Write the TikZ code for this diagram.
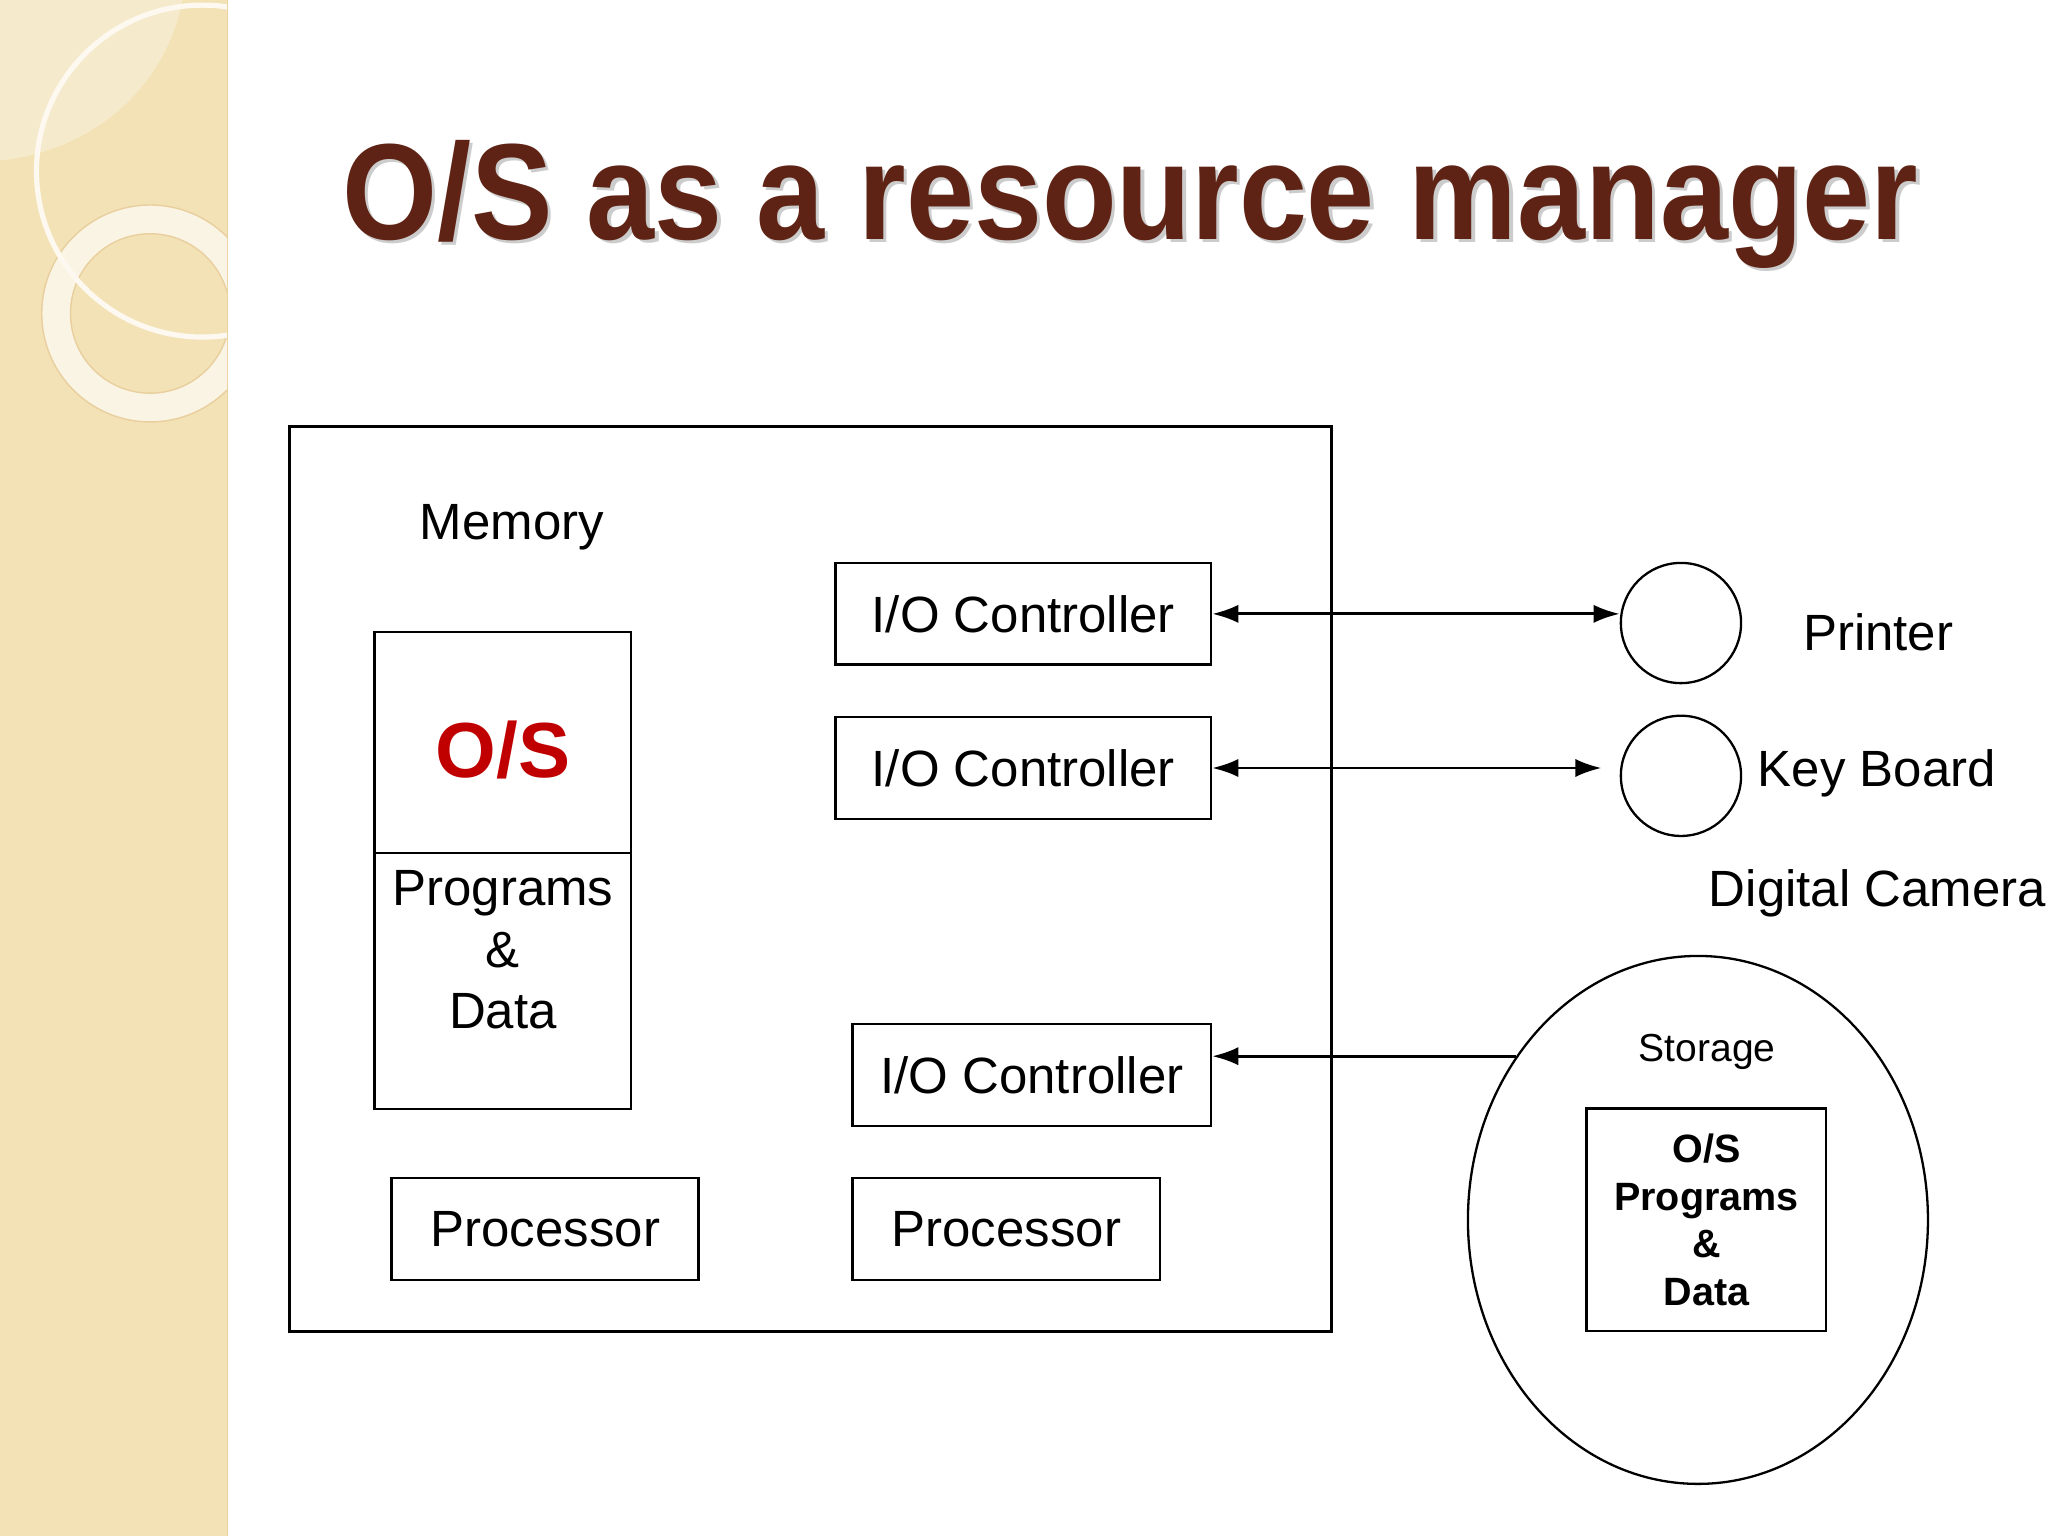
\documentclass[tikz,border=0pt]{standalone}
\usepackage{fontspec}
\usepackage{graphicx}
\setmainfont{Liberation Sans}
\usetikzlibrary{shapes.geometric, positioning, arrows.meta}

\definecolor{titlebrown}{HTML}{5E2314}
\definecolor{osred}{HTML}{C00000}
\definecolor{sidebeige}{HTML}{F3E2B6}

\tikzset{
	box/.style={draw, line width=0.6pt, inner sep=0pt},
	lbl/.style={font=\fontsize{11.1}{13.4}\selectfont},
	small/.style={font=\fontsize{8.5}{10.4}\selectfont},
	smallbold/.style={font=\fontsize{8.6}{10.4}\selectfont\bfseries, align=center},
	link/.style={line width=0.6pt},
	tip/.tip={Latex[length=0.2cm, width=0.14cm]},
}

\begin{document}
\begin{tikzpicture}[x=0.01cm, y=-0.01cm]
	\useasboundingbox (0,0) rectangle (1568,1176);

	% side strip of the slide
	\fill[sidebeige] (0,0) rectangle (174,1176);
	\begin{scope}
		\clip (0,0) rectangle (174,1176);
		\fill[white, opacity=0.3] (0,0) -- (140,0) .. controls (125,70) and (70,115) .. (0,123) -- cycle;
		\draw[line width=0.22cm, white!70!sidebeige, opacity=0.9] (115,240) circle (0.72cm);
		\draw[line width=0.3pt, sidebeige!80!brown] (115,240) circle (0.83cm);
		\draw[line width=0.3pt, sidebeige!80!brown] (115,240) circle (0.61cm);
		\draw[line width=0.04cm, white!80!sidebeige] (155,131) circle (1.27cm);
	\end{scope}
	\draw[line width=0.3pt, sidebeige!85!brown] (174,0) -- (174,1176);

	% title
	\node[anchor=base, font=\fontsize{29.8}{36}\selectfont\bfseries, text=black, opacity=0.2] at (868,186) {\scalebox{0.893}[1]{O/S as a resource manager}};
	\node[anchor=base, font=\fontsize{29.8}{36}\selectfont\bfseries, text=titlebrown] (title) at (865.5,183) {\scalebox{0.893}[1]{O/S as a resource manager}};

	% memory
	\node[box, minimum width=7.97cm, minimum height=6.92cm] (mem) at (620.5,673) {};
	\node[lbl, anchor=base] (memlbl) at (392,413) {Memory};

	\node[box, minimum width=1.96cm, minimum height=1.69cm] (os) at (385,568.5) {};
	\node[font=\fontsize{17}{20}\selectfont\bfseries, text=osred] (oslbl) at (385,574) {O/S};
	\node[box, minimum width=1.96cm, minimum height=1.96cm, below=-0.6pt of os] (pd) {};
	\node[lbl, align=center, anchor=north, inner sep=0pt] (pdlbl) at (385,666) {Programs\\\&\\Data};

	\node[box, lbl, minimum width=2.87cm, minimum height=0.78cm] (io1) at (783.5,470) {I/O Controller};
	\node[box, lbl, minimum width=2.87cm, minimum height=0.78cm] (io2) at (783.5,588) {I/O Controller};
	\node[box, lbl, minimum width=2.74cm, minimum height=0.78cm] (io3) at (790,823) {I/O Controller};

	\node[box, lbl, minimum width=2.35cm, minimum height=0.78cm] (cpu1) at (417.5,941) {Processor};
	\node[box, lbl, minimum width=2.35cm, minimum height=0.78cm] (cpu2) at (770.5,941) {Processor};

	% devices
	\node[draw, circle, line width=0.5pt, minimum size=0.92cm, inner sep=0pt] (printer) at (1287,477) {};
	\node[draw, circle, line width=0.5pt, minimum size=0.92cm, inner sep=0pt] (kbd) at (1287,594) {};
	\node[lbl, anchor=base] (printerlbl) at (1438,498) {Printer};
	\node[lbl, anchor=base] (kbdlbl) at (1437,602) {Key Board};
	\node[lbl, anchor=base] (camlbl) at (1437.5,694) {Digital Camera};

	\node[draw, ellipse, line width=0.5pt, minimum width=3.52cm, minimum height=4.04cm, inner sep=0pt] (storage) at (1300,934) {};
	\node[small, anchor=base] (storagelbl) at (1307,813) {Storage};
	\node[box, smallbold, minimum width=1.83cm, minimum height=1.70cm] (disk) at (1306.5,934) {O/S\\Programs\\\&\\Data};

	% links
	\draw[link, tip-tip] (io1.east) -- (io1.east -| printer.west);
	\draw[link, tip-tip, shorten >=0.14cm] (io2.east) -- (io2.east -| kbd.west);
	\draw[link, -tip] (storage.138.5) -- (storage.138.5 -| io3.east);
\end{tikzpicture}
\end{document}
